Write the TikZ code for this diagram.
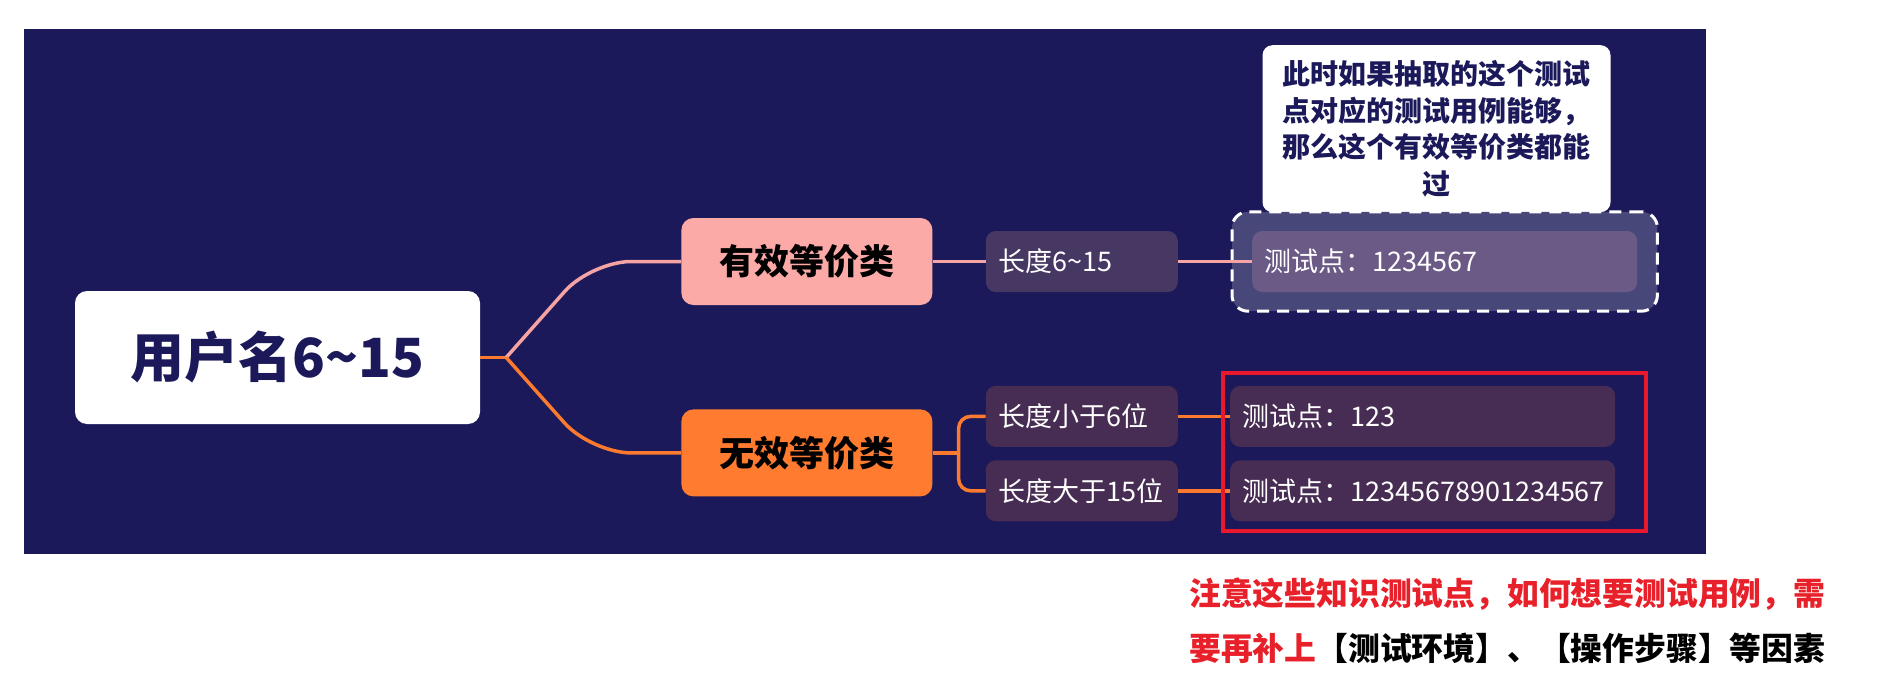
\documentclass[tikz,border=0pt]{standalone}
\usepackage{fontspec}
\setmainfont{Noto Sans CJK SC}
\usepackage{xcolor}
\usepackage{tikz}
\usetikzlibrary{positioning, fit, calc, backgrounds}
\definecolor{navy}{HTML}{1B1959}
\definecolor{pinkline}{HTML}{F5A3A3}
\definecolor{validfill}{HTML}{FCAAA8}
\definecolor{orangeline}{HTML}{FB7A2F}
\definecolor{invalidfill}{HTML}{FE7B30}
\definecolor{condup}{HTML}{473763}
\definecolor{conddown}{HTML}{472C53}
\definecolor{pointup}{HTML}{6B5A86}
\definecolor{framefill}{HTML}{48477A}
\definecolor{framered}{HTML}{E8192C}
\definecolor{warnred}{HTML}{E8202A}

\begin{document}
\begin{tikzpicture}[x=1pt, y=-1pt,
    rootbox/.style={rectangle, rounded corners=12pt, fill=white, text=navy, minimum width=405pt, minimum height=133pt, font=\fontsize{54pt}{60pt}\selectfont\bfseries},
    classbox/.style={rectangle, rounded corners=12pt, minimum width=251pt, minimum height=87pt, text=black, font=\fontsize{35pt}{40pt}\selectfont\bfseries},
    condbox/.style={rectangle, rounded corners=10pt, text=white, text width=166pt, inner xsep=13pt, align=left, minimum height=61pt, font=\fontsize{27pt}{32pt}\selectfont},
    pointbox/.style={condbox, text width=361pt, inner xsep=12pt},
    note/.style={rectangle, rounded corners=10pt, fill=white, text=navy, text width=312pt, align=center, inner xsep=18pt, inner ysep=15pt, font=\fontsize{28pt}{36.7pt}\selectfont\bfseries},
    dashframe/.style={rectangle, rounded corners=16pt, draw=white, fill=framefill, line width=3pt, dash pattern=on 12pt off 8pt, inner xsep=20pt, inner ysep=19pt},
    remark/.style={inner sep=0pt, align=left, font=\fontsize{31.8pt}{55pt}\selectfont\bfseries},
    link/.style={line width=3.5pt},
]
\useasboundingbox (0,0) rectangle (1877,698);
\begin{scope}[on background layer]
\fill[white] (0,0) rectangle (1877,698);
\fill[navy] (24,29) rectangle (1706,554);
\end{scope}

\node[rootbox] (root) at (277.5,357.5) {用户名6\textasciitilde15};
\node[classbox, fill=validfill, right=201pt of root, yshift=96pt] (valid) {有效等价类};
\node[classbox, fill=invalidfill, below=104pt of valid] (invalid) {无效等价类};

\node[condbox, fill=condup, right=53pt of valid] (len1) {长度6\textasciitilde15};
\node[pointbox, fill=pointup, right=74pt of len1] (pt1) {测试点：1234567};
\node[condbox, fill=conddown, right=53pt of invalid, yshift=36.5pt] (len2) {长度小于6位};
\node[condbox, fill=conddown, below=13pt of len2] (len3) {长度大于15位};
\node[pointbox, fill=conddown, right=52pt of len2] (pt2) {测试点：123};
\node[pointbox, fill=conddown, right=52pt of len3] (pt3) {测试点：12345678901234567};

\begin{scope}[on background layer]
\node[note, anchor=north] (note) at (1436.5,45) {此时如果抽取的这个测试\\点对应的测试用例能够，\\那么这个有效等价类都能\\过};
\node[dashframe, fit=(pt1)] (frame) {};
\end{scope}

\coordinate[right=26pt of root] (fork);
\coordinate[right=26pt of invalid] (fork2);
\draw[link, orangeline] (root.east) -- (fork);
\draw[link, pinkline, rounded corners=40pt] (fork) -- ([xshift=-90pt]valid.west) -- (valid.west);
\draw[link, orangeline, rounded corners=40pt] (fork) -- ([xshift=-90pt]invalid.west) -- (invalid.west);
\draw[link, pinkline] (valid) -- (len1);
\draw[link, pinkline] (len1) -- (pt1);
\draw[link, orangeline] (invalid) -- (fork2);
\draw[link, orangeline, rounded corners=12pt] (fork2) |- (len2);
\draw[link, orangeline, rounded corners=12pt] (fork2) |- (len3);
\draw[link, orangeline] (len2) -- (pt2);
\draw[link, orangeline] (len3) -- (pt3);

\draw[framered, line width=4pt] ([shift={(-7pt,13pt)}]pt2.north west) rectangle ([shift={(31pt,-9pt)}]pt3.south east);

\node[remark, anchor=west] (tip) at (1189,620.5) {\textcolor{warnred}{注意这些知识测试点，如何想要测试用例，需}\\\textcolor{warnred}{要再补上}【测试环境】、【操作步骤】等因素};
\end{tikzpicture}
\end{document}
